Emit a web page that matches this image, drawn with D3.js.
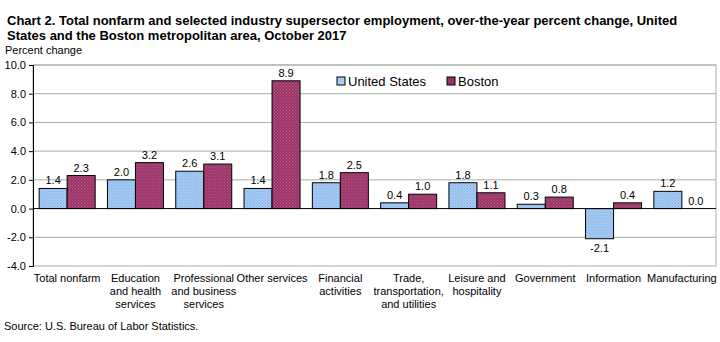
<!DOCTYPE html>
<html>
<head>
<meta charset="utf-8">
<script src="https://cdn.jsdelivr.net/npm/d3@7"></script>
<style>
  body { margin: 0; background: #fff; }
  text { font-family: "Liberation Sans", Arial, sans-serif; fill: #000; }
</style>
</head>
<body>
<div class="chart"></div>
<script>
var categories = [
  ["Total nonfarm"],
  ["Education", "and health", "services"],
  ["Professional", "and business", "services"],
  ["Other services"],
  ["Financial", "activities"],
  ["Trade,", "transportation,", "and utilities"],
  ["Leisure and", "hospitality"],
  ["Government"],
  ["Information"],
  ["Manufacturing"]
];
var seriesNames = ["United States", "Boston"];
var usValues = [1.4, 2.0, 2.6, 1.4, 1.8, 0.4, 1.8, 0.3, -2.1, 1.2];
var bostonValues = [2.3, 3.2, 3.1, 8.9, 2.5, 1.0, 1.1, 0.8, 0.4, 0.0];
var yTicks = [-4, -2, 0, 2, 4, 6, 8, 10];

var svgWidth = 720;
var svgHeight = 342;
var margin = { top: 65, right: 4, bottom: 76, left: 33 };
var width = svgWidth - margin.left - margin.right;
var height = svgHeight - margin.top - margin.bottom;

var colors = ["#a6cdf4", "#993366"];

// one decimal, plain hyphen for negatives
var fmt = function(v) { return d3.format(".1f")(v).replace("\u2212", "-"); };

var svg = d3.select(".chart")
    .append("svg")
    .attr("width", svgWidth)
    .attr("height", svgHeight);

// dotted fills
var defs = svg.append("defs");
[["usPat", colors[0], "#7fa8e0"], ["bosPat", colors[1], "#c0608c"]].forEach(function(p) {
  var pat = defs.append("pattern")
      .attr("id", p[0])
      .attr("width", 3).attr("height", 3)
      .attr("patternUnits", "userSpaceOnUse");
  pat.append("rect").attr("width", 3).attr("height", 3).attr("fill", p[1]);
  pat.append("rect").attr("x", 0).attr("y", 0).attr("width", 1).attr("height", 1).attr("fill", p[2]);
  pat.append("rect").attr("x", 1.5).attr("y", 1.5).attr("width", 1).attr("height", 1).attr("fill", p[2]);
});

svg.append("text").attr("x", 7).attr("y", 25)
    .style("font-weight", "bold").style("font-size", "13px")
    .text("Chart 2. Total nonfarm and selected industry  supersector  employment, over-the-year percent change, United");
svg.append("text").attr("x", 7).attr("y", 40)
    .style("font-weight", "bold").style("font-size", "13px")
    .text("States and the Boston  metropolitan area, October 2017");
svg.append("text").attr("x", 5).attr("y", 54)
    .style("font-size", "11px")
    .text("Percent change");

var chart = svg.append("g")
    .attr("transform", "translate(" + margin.left + "," + margin.top + ")");

var x = d3.scaleBand().domain(d3.range(categories.length)).range([0, width]).paddingInner(0.18).paddingOuter(0.09);
var xs = d3.scaleBand().domain([0, 1]).range([0, x.bandwidth()]);
var y = d3.scaleLinear().domain([-4, 10]).range([height, 0]);

// gridlines
chart.selectAll(".grid")
    .data(yTicks.filter(function(d) { return d !== 0 && d !== -4; }))
    .enter().append("line")
    .attr("x1", 0).attr("x2", width)
    .attr("y1", function(d) { return y(d); })
    .attr("y2", function(d) { return y(d); })
    .attr("stroke", "#a3b2a3").attr("stroke-width", 1);

// frame
chart.append("rect")
    .attr("x", 0).attr("y", 0).attr("width", width).attr("height", height)
    .attr("fill", "none").attr("stroke", "#a3b2a3");

var leftAxis = d3.axisLeft(y).tickValues(yTicks).tickSize(4).tickFormat(fmt);
var gy = chart.append("g").call(leftAxis);
gy.select(".domain").attr("stroke", "#000");
gy.selectAll(".tick line").attr("stroke", "#000");
gy.selectAll(".tick text").style("font-size", "11px").attr("x", -7);

var rows = categories.map(function(c, i) { return { i: i, vals: [usValues[i], bostonValues[i]] }; });

var groups = chart.selectAll(".grp")
    .data(rows).enter().append("g")
    .attr("transform", function(d) { return "translate(" + x(d.i) + ",0)"; });

groups.selectAll("rect")
    .data(function(d) { return d.vals.map(function(v, k) { return { k: k, v: v }; }); })
    .enter().append("rect")
    .attr("x", function(d) { return xs(d.k); })
    .attr("width", xs.bandwidth())
    .attr("y", function(d) { return y(Math.max(0, d.v)); })
    .attr("height", function(d) { return Math.abs(y(d.v) - y(0)); })
    .attr("fill", function(d) { return d.k === 0 ? "url(#usPat)" : "url(#bosPat)"; })
    .attr("stroke", "#000").attr("stroke-width", 1);

groups.selectAll(".lbl")
    .data(function(d) { return d.vals.map(function(v, k) { return { k: k, v: v }; }); })
    .enter().append("text")
    .attr("x", function(d) { return xs(d.k) + xs.bandwidth() / 2; })
    .attr("y", function(d) { return d.v < 0 ? y(d.v) + 13 : y(d.v) - 4; })
    .attr("text-anchor", "middle")
    .style("font-size", "11px")
    .text(function(d) { return fmt(d.v); });

// zero line
chart.append("line")
    .attr("x1", 0).attr("x2", width)
    .attr("y1", y(0)).attr("y2", y(0))
    .attr("stroke", "#000");

// category labels
var cl = chart.selectAll(".cat")
    .data(categories).enter().append("text")
    .attr("text-anchor", "middle")
    .style("font-size", "11px")
    .attr("transform", function(d, i) { return "translate(" + (x(i) + x.bandwidth() / 2) + "," + (height + 16) + ")"; });
cl.selectAll("tspan")
    .data(function(d) { return d; }).enter().append("tspan")
    .attr("x", 0)
    .attr("dy", function(d, j) { return j === 0 ? 0 : 13; })
    .text(function(d) { return d; });

// legend
var legend = svg.append("g").attr("transform", "translate(337,76)");
var li = legend.selectAll("g").data(seriesNames).enter().append("g")
    .attr("transform", function(d, i) { return "translate(" + (i * 110) + ",0)"; });
li.append("rect").attr("width", 8).attr("height", 8).attr("y", 1)
    .attr("fill", function(d, i) { return colors[i]; }).attr("stroke", "#000");
li.append("text").attr("x", 11).attr("y", 10)
    .style("font-size", "13px").text(function(d) { return d; });

svg.append("text").attr("x", 4).attr("y", 330)
    .style("font-size", "11px")
    .text("Source: U.S. Bureau of Labor Statistics.");
</script>
</body>
</html>
